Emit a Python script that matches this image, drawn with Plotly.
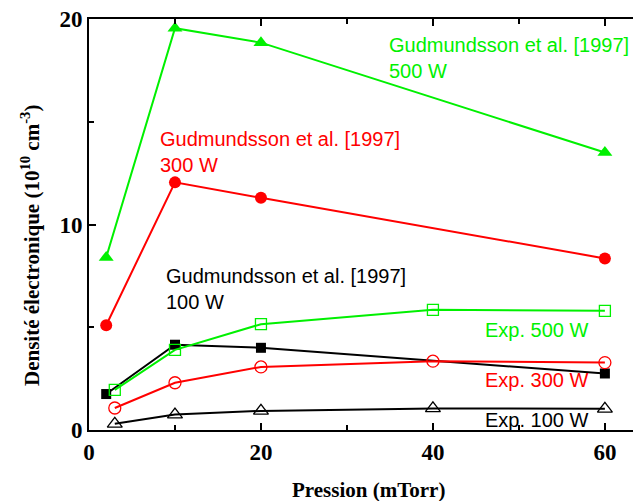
import plotly.graph_objects as go

# --- Data ---
pression_gud = [2, 10, 20, 60]
gud_500w = [8.4, 19.55, 18.85, 13.5]
gud_300w = [5.1, 12.05, 11.3, 8.35]
gud_100w = [1.75, 4.15, 4.0, 2.75]

pression_exp = [3, 10, 20, 40, 60]
exp_500w = [1.95, 3.9, 5.15, 5.85, 5.8]
exp_300w = [1.07, 2.3, 3.07, 3.35, 3.28]
exp_100w = [0.3, 0.75, 0.93, 1.05, 1.03]

x_ticks = [0, 20, 40, 60]
y_ticks = [0, 10, 20]

GREEN = "#00f000"
RED = "#ff0000"
BLACK = "#000000"

SERIF = "Times New Roman, Liberation Serif, serif"
SANS = "Arial, Liberation Sans, sans-serif"

# the page body has an 8px margin, so work in screen pixels and shift
OFF = 8
FIG_W, FIG_H = 641 - OFF, 501 - OFF
# plot box in screen pixels (left, top, right, bottom)
L, T, R, B = 89, 19, 641, 430
W, H = R - L, B - T

fig = go.Figure()


def add_series(x, y, color, symbol, size, open_marker=False):
    if open_marker:
        marker = dict(symbol=symbol + "-open", size=size, color=color,
                      line=dict(color=color, width=1.3))
    else:
        marker = dict(symbol=symbol, size=size, color=color)
    fig.add_trace(go.Scatter(
        x=x, y=y, mode="lines+markers",
        line=dict(color=color, width=2),
        marker=marker, showlegend=False, cliponaxis=False,
    ))


# Gudmundsson et al. (filled markers)
add_series(pression_gud, gud_500w, GREEN, "triangle-up", 13)
add_series(pression_gud, gud_300w, RED, "circle", 12)
add_series(pression_gud, gud_100w, BLACK, "square", 10)

# experiments (open markers)
add_series(pression_exp, exp_500w, GREEN, "square", 11, True)
add_series(pression_exp, exp_300w, RED, "circle", 12, True)
add_series(pression_exp, exp_100w, BLACK, "triangle-up", 13, True)

# invisible trace so the top axis (ticks only) gets drawn
fig.add_trace(go.Scatter(x=[0], y=[0], xaxis="x2", mode="markers",
                         marker=dict(opacity=0), showlegend=False,
                         hoverinfo="skip"))

labels = [
    (387, 32, "Gudmundsson et al. [1997]<br>500 W", GREEN),
    (158, 126, "Gudmundsson et al. [1997]<br>300 W", RED),
    (164, 263, "Gudmundsson et al. [1997]<br>100 W", BLACK),
    (483, 317, "Exp. 500 W", GREEN),
    (483, 367, "Exp. 300 W", RED),
    (483, 407, "Exp. 100 W", BLACK),
]
for px, py, txt, col in labels:
    fig.add_annotation(
        x=(px - L) / W, y=(B - py) / H, xref="paper", yref="paper",
        text=txt, showarrow=False, align="left",
        xanchor="left", yanchor="top",
        font=dict(family=SANS, size=20, color=col),
    )

# axis titles
fig.add_annotation(
    x=(30 - L) / W, y=(B - 246) / H, xref="paper", yref="paper",
    text="<b>Densité électronique (10<sup>10</sup> cm<sup>-3</sup>)</b>",
    showarrow=False, textangle=-90, xanchor="center", yanchor="middle",
    font=dict(family=SERIF, size=21, color="black"),
)
fig.add_annotation(
    x=(368 - L) / W, y=(B - 490) / H, xref="paper", yref="paper",
    text="<b>Pression (mTorr)</b>",
    showarrow=False, xanchor="center", yanchor="middle",
    font=dict(family=SERIF, size=21, color="black"),
)

x_range = [0, 64.2]
tick_style = dict(ticks="inside", ticklen=7, tickwidth=2, tickcolor="black")

fig.update_layout(
    width=FIG_W, height=FIG_H,
    margin=dict(l=L - OFF, r=641 - R, t=T - OFF, b=501 - B,
                autoexpand=False),
    paper_bgcolor="white", plot_bgcolor="white",
    xaxis=dict(
        range=x_range, tickvals=x_ticks, **tick_style,
        minor=dict(tickvals=[10, 30, 50], ticks="inside", ticklen=5,
                   tickwidth=2, tickcolor="black"),
        showline=True, linecolor="black", linewidth=2,
        showgrid=False, zeroline=False, automargin=False,
        ticklabeloverflow="allow",
        tickfont=dict(family=SERIF, size=23, color="black", weight="bold"),
    ),
    xaxis2=dict(
        range=x_range, overlaying="x", side="top", anchor="y",
        tickvals=x_ticks, showticklabels=False, **tick_style,
        minor=dict(tickvals=[10, 30, 50], ticks="inside", ticklen=5,
                   tickwidth=2, tickcolor="black"),
        showline=True, linecolor="black", linewidth=2,
        showgrid=False, zeroline=False, automargin=False,
    ),
    yaxis=dict(
        range=[0, 20], tickvals=y_ticks, **tick_style,
        minor=dict(tickvals=[5, 15], ticks="inside", ticklen=5,
                   tickwidth=2, tickcolor="black"),
        showline=True, linecolor="black", linewidth=2,
        showgrid=False, zeroline=False, automargin=False,
        ticklabeloverflow="allow",
        tickfont=dict(family=SERIF, size=23, color="black", weight="bold"),
    ),
)

fig.write_html("out.html")
